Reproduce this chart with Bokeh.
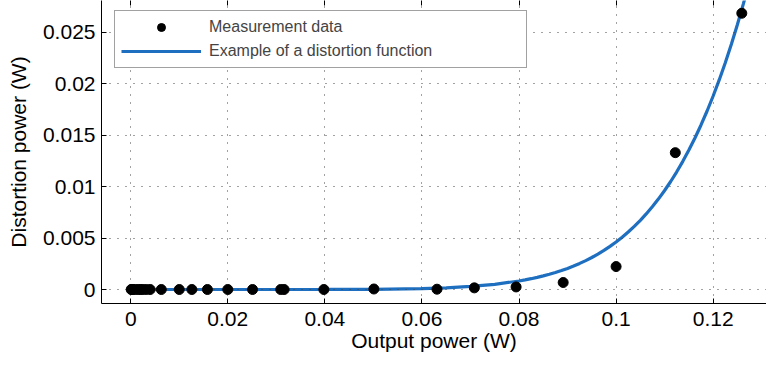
from bokeh.plotting import figure
from bokeh.models import Range1d, FixedTicker, Legend, LegendItem, LinearAxis
from bokeh.embed import file_html
from bokeh.resources import INLINE

# Measurement data (output power W, distortion power W)
meas_x = [0.0001, 0.00025, 0.0005, 0.001, 0.0016, 0.002, 0.0025, 0.0032, 0.004,
          0.0063, 0.01, 0.0126, 0.0158, 0.02, 0.0251, 0.0309, 0.0316, 0.0398,
          0.0501, 0.0631, 0.0708, 0.0794, 0.0891, 0.1, 0.1122, 0.1259]
meas_y = [0.0, 0.0, 0.0, 0.0, 0.0, 0.0, 0.0, 0.0, 0.0,
          0.0, 0.0, 0.0, 0.0, 0.0, 0.0, 0.0, 0.0, 0.0,
          0.00005, 0.00003, 0.00016, 0.00025, 0.00068, 0.00223, 0.0133, 0.02685]

# Example distortion function
func_x = [0.0, 0.01, 0.02, 0.03, 0.04, 0.05, 0.06, 0.065, 0.07, 0.075, 0.08,
          0.08125, 0.0825, 0.08375, 0.085, 0.08625, 0.0875, 0.08875, 0.09,
          0.09125, 0.0925, 0.09375, 0.095, 0.09625, 0.0975, 0.09875, 0.1,
          0.10125, 0.1025, 0.10375, 0.105, 0.10625, 0.1075, 0.10875, 0.11,
          0.11125, 0.1125, 0.11375, 0.115, 0.11625, 0.1175, 0.11875, 0.12,
          0.12125, 0.1225, 0.12375, 0.125, 0.12625, 0.1275]
func_y = [0.0, 0.0, 0.00000002, 0.00000044, 0.000004, 0.000022, 0.00009, 0.000168,
          0.000297, 0.000504, 0.000829,
          0.000934, 0.001051, 0.00118, 0.001322, 0.001479, 0.001652, 0.001843, 0.002053,
          0.002283, 0.002535, 0.002811, 0.003112, 0.003442, 0.003802, 0.004194, 0.00462,
          0.005084, 0.005588, 0.006134, 0.006727, 0.007369, 0.008063, 0.008814, 0.009624,
          0.010499, 0.011442, 0.012458, 0.013552, 0.014729, 0.015993, 0.017351, 0.018808,
          0.020369, 0.022042, 0.023836, 0.025757, 0.027805, 0.029998]

x_ticks = [0.0, 0.02, 0.04, 0.06, 0.08, 0.1, 0.12]
x_tick_labels = ["0", "0.02", "0.04", "0.06", "0.08", "0.1", "0.12"]
y_ticks = [0.0, 0.005, 0.01, 0.015, 0.02, 0.025]
y_tick_labels = ["0", "0.005", "0.01", "0.015", "0.02", "0.025"]

FONT = "Liberation Sans"

p = figure(width=766, height=367, output_backend="svg", toolbar_location=None,
           x_range=Range1d(-0.00602, 0.13099), y_range=Range1d(-0.00136, 0.02809),
           min_border_left=101, min_border_right=0, min_border_top=0,
           min_border_bottom=64, background_fill_color="white",
           border_fill_color="white")
p.outline_line_color = None

# grid
for g in (p.xgrid, p.ygrid):
    g.grid_line_color = "#444444"
    g.grid_line_dash = "1 7"
    g.grid_line_width = 1
p.xgrid.ticker = FixedTicker(ticks=x_ticks)
p.ygrid.ticker = FixedTicker(ticks=y_ticks)

for ax, ticks, labels in ((p.xaxis[0], x_ticks, x_tick_labels),
                          (p.yaxis[0], y_ticks, y_tick_labels)):
    ax.ticker = FixedTicker(ticks=ticks)
    ax.major_label_overrides = dict(zip(ticks, labels))
    ax.major_tick_in = 5
    ax.major_tick_out = 0
    ax.minor_tick_line_color = None
    ax.axis_line_color = "black"
    ax.major_tick_line_color = "black"
    ax.major_label_text_font = FONT
    ax.major_label_text_font_size = "21px"
    ax.major_label_text_color = "black"
    ax.axis_label_text_font = FONT
    ax.axis_label_text_font_size = "21px"
    ax.axis_label_text_font_style = "normal"
    ax.axis_label_text_color = "black"

p.xaxis.axis_label = "Output power (W)"
p.yaxis.axis_label = "Distortion power (W)"
p.xaxis.major_label_standoff = 8
p.xaxis.axis_label_standoff = 0
p.yaxis.major_label_standoff = 6
p.yaxis.axis_label_standoff = 10

# top axis with inward ticks only (no labels)
top = LinearAxis(ticker=FixedTicker(ticks=x_ticks), axis_line_color=None,
                 major_tick_in=5, major_tick_out=0, minor_tick_line_color=None,
                 major_label_overrides={t: "" for t in x_ticks},
                 major_label_standoff=0, major_tick_line_color="black")
p.add_layout(top, "above")

r_line = p.line(func_x, func_y, line_color="#1f6fc0", line_width=3.2)
r_pts = p.scatter(meas_x, meas_y, size=10, fill_color="black", line_color="black")
r_line.level = "underlay"

legend = Legend(items=[LegendItem(label="Measurement data", renderers=[r_pts]),
                       LegendItem(label="Example of a distortion function", renderers=[r_line])],
                location=(13, 235), glyph_width=80, glyph_height=20, label_height=20,
                label_width=311, label_standoff=8, padding=6, spacing=4, margin=0,
                label_text_font=FONT, label_text_font_size="16px",
                border_line_color="#444444", border_line_width=1,
                background_fill_color="white", background_fill_alpha=1.0)
p.add_layout(legend)

open("out.html", "w").write(file_html(p, INLINE))
